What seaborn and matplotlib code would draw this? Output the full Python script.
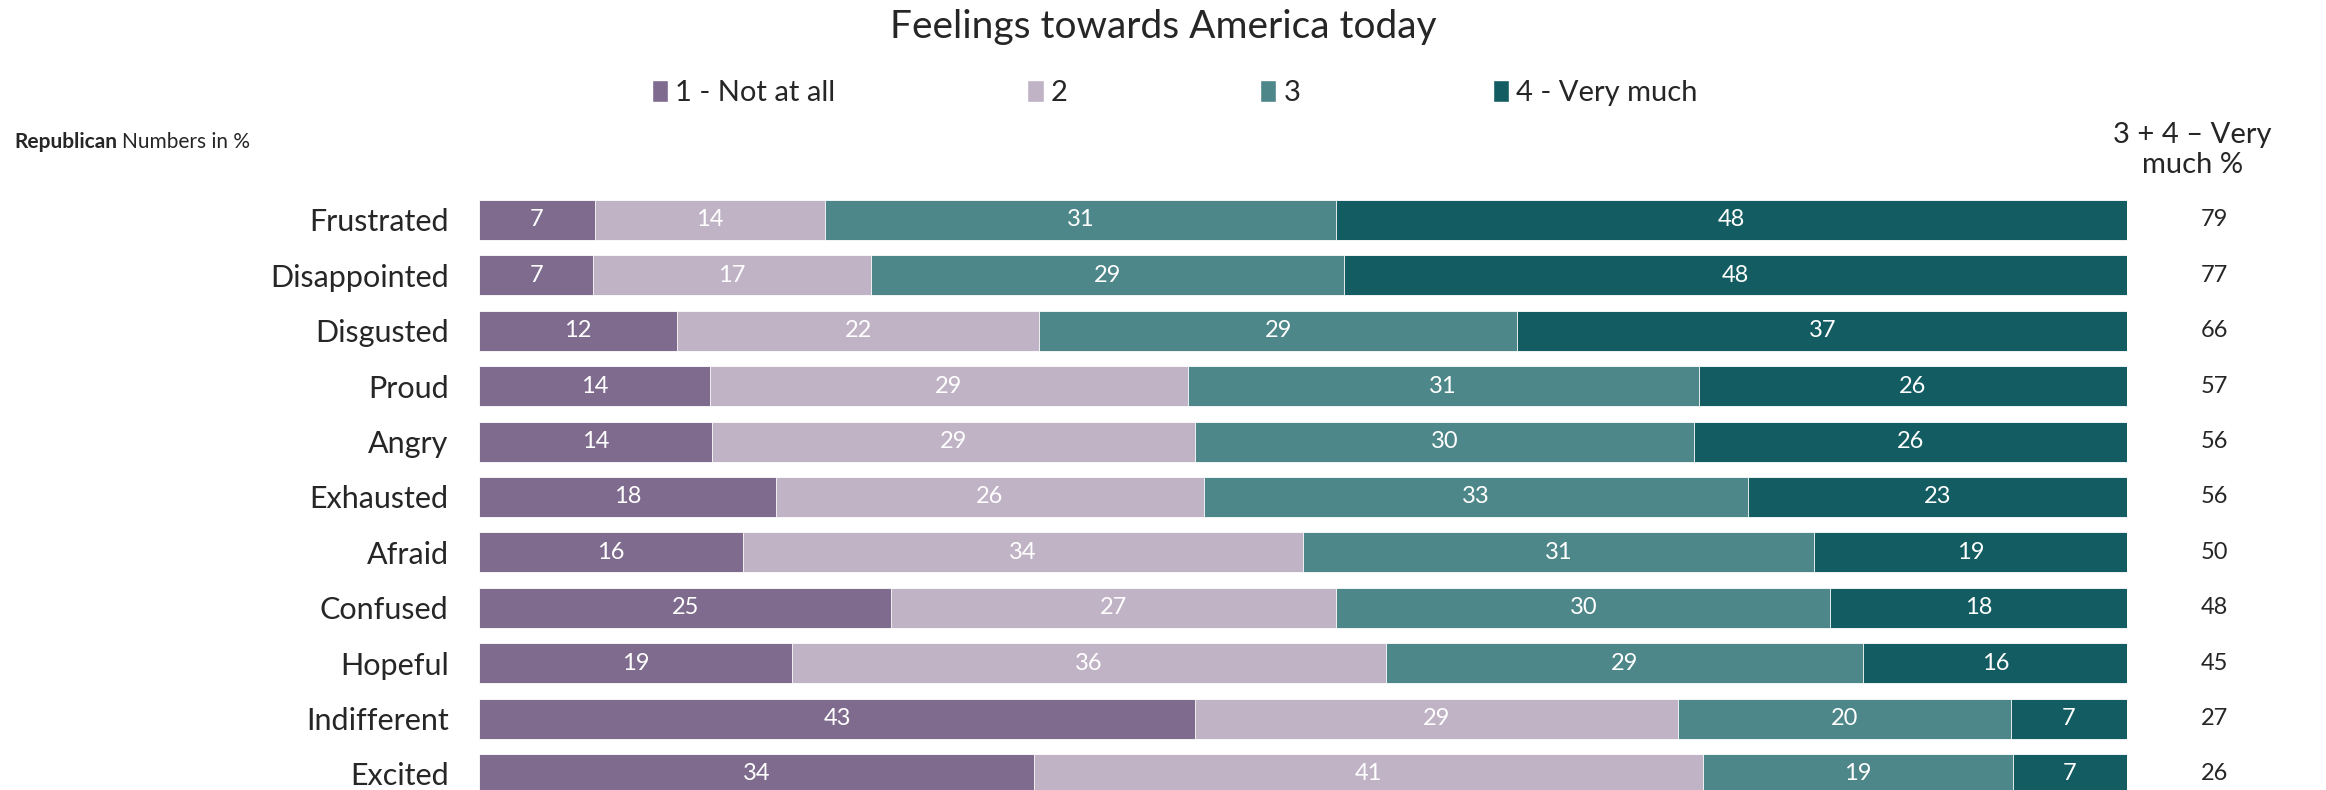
import numpy as np
import pandas as pd
import matplotlib
matplotlib.use("Agg")
import matplotlib.pyplot as plt
import seaborn as sns
from matplotlib.patches import Patch

# data
feelings = ["Frustrated", "Disappointed", "Disgusted", "Proud", "Angry", "Exhausted",
            "Afraid", "Confused", "Hopeful", "Indifferent", "Excited"]
not_at_all = [7, 7, 12, 14, 14, 18, 16, 25, 19, 43, 34]
level_2 = [14, 17, 22, 29, 29, 26, 34, 27, 36, 29, 41]
level_3 = [31, 29, 29, 31, 30, 33, 31, 30, 29, 20, 19]
very_much = [48, 48, 37, 26, 26, 23, 19, 18, 16, 7, 7]
top_two = [79, 77, 66, 57, 56, 56, 50, 48, 45, 27, 26]
levels = ["1 - Not at all", "2", "3", "4 - Very much"]
colors = ["#7f6b8e", "#c0b3c6", "#4e8789", "#135d62"]

sns.set_theme(style="white")
plt.rcParams["font.family"] = ["Lato", "DejaVu Sans"]

df = pd.DataFrame({"feeling": feelings, levels[0]: not_at_all, levels[1]: level_2,
                   levels[2]: level_3, levels[3]: very_much})
vals = df[levels].astype(float)
vals = vals.div(vals.sum(axis=1), axis=0) * 100  # bars all fill the width
cum = vals.cumsum(axis=1)

fig = plt.figure(figsize=(23.26, 7.90), dpi=100)
ax = fig.add_axes([0.206, -0.0148, 0.7085, 0.7714])

# stacked bars: draw cumulative totals from the longest down
for lev, col in reversed(list(zip(levels, colors))):
    sns.barplot(x=cum[lev], y=df["feeling"], color=col, orient="h", width=0.72,
                edgecolor="white", linewidth=0.6, saturation=1, ax=ax)

# segment labels
for i in range(len(feelings)):
    for lev in levels:
        mid = cum[lev].iloc[i] - vals[lev].iloc[i] / 2
        ax.text(mid, i, str(df[lev].iloc[i]), ha="center", va="center",
                color="white", fontsize=17)

ax.set_xlim(0, 100)
ax.set_ylim(len(feelings) - 0.5, -0.5)
ax.set_xlabel("")
ax.set_ylabel("")
ax.set_xticks([])
ax.tick_params(axis="y", length=0, pad=22, labelsize=22)
sns.despine(ax=ax, left=True, bottom=True)

# right-hand total column
trans = matplotlib.transforms.blended_transform_factory(fig.transFigure, ax.transData)
for i, v in enumerate(top_two):
    ax.text(0.952, i, str(v), transform=trans, ha="center", va="center", fontsize=17)
fig.text(0.9425, 0.81, "3 + 4 – Very\nmuch %", ha="center", va="center",
         fontsize=21, linespacing=1.2)

fig.text(0.5, 0.966, "Feelings towards America today", ha="center", va="center", fontsize=28)
fig.text(0.006, 0.82, "Republican", ha="left", va="center", fontsize=15, fontweight="bold")
fig.text(0.0523, 0.82, "Numbers in %", ha="left", va="center", fontsize=15)

handles = [Patch(facecolor=c, label=l) for l, c in zip(levels, colors)]
fig.legend(handles=handles, loc="center", bbox_to_anchor=(0.505, 0.882), ncol=4,
           frameon=False, fontsize=21, handlelength=0.55, handleheight=0.75,
           handletextpad=0.25, columnspacing=6.6)

fig.savefig("out.png", dpi=100)
